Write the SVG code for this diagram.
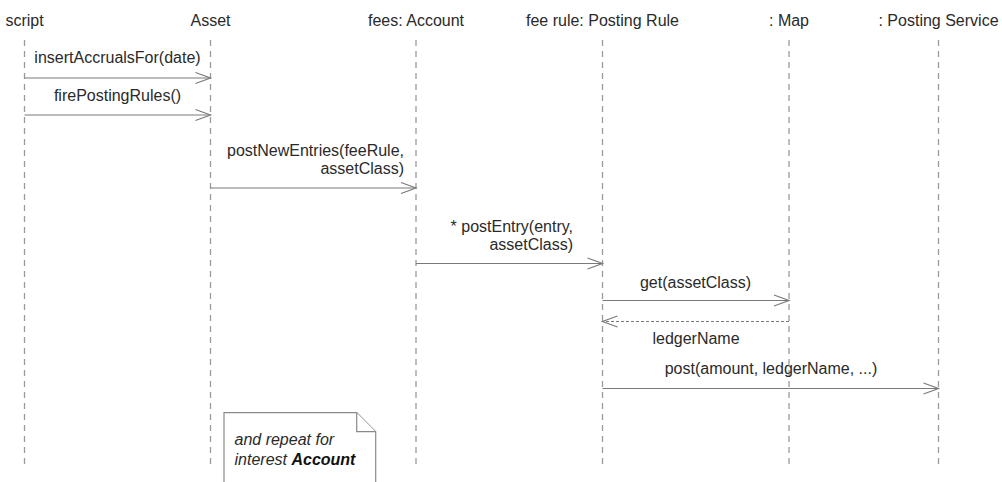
<svg xmlns="http://www.w3.org/2000/svg" width="1002" height="482" viewBox="0 0 1002 482">
<style>
text{font-family:"Liberation Sans",Arial,sans-serif;font-size:16px;fill:#2a2a2a}
.c{text-anchor:middle}
.r{text-anchor:end}
.life{stroke:#9a9a9a;stroke-width:1.3;stroke-dasharray:6 5;fill:none}
.msg{stroke:#7a7a7a;stroke-width:1.2;fill:none;marker-end:url(#open)}
.ret{stroke:#7a7a7a;stroke-width:1.2;fill:none;stroke-dasharray:3 2;marker-end:url(#open)}
.note{stroke:#8a8a8a;stroke-width:1.2;fill:#fff}
.it{font-style:italic}
</style>
<defs>
<marker id="open" viewBox="-17 -7 20 14" refX="0" refY="0" markerWidth="20" markerHeight="14" markerUnits="userSpaceOnUse" orient="auto" overflow="visible">
<path d="M-15,-5.5 L0,0 L-15,5.5" fill="none" stroke="#7a7a7a" stroke-width="1.2"/>
</marker>
</defs>
<g id="script"><text class="c" x="24.5" y="26">script</text><line class="life" x1="24.5" y1="40" x2="24.5" y2="465"/></g>
<g id="asset"><text class="c" x="210.5" y="26">Asset</text><line class="life" x1="210.5" y1="40" x2="210.5" y2="465"/></g>
<g id="fees"><text class="c" x="416" y="26">fees: Account</text><line class="life" x1="416" y1="40" x2="416" y2="465"/></g>
<g id="feerule"><text class="c" x="602.5" y="26">fee rule: Posting Rule</text><line class="life" x1="602.5" y1="40" x2="602.5" y2="465"/></g>
<g id="map"><text class="c" x="789" y="26">: Map</text><line class="life" x1="789" y1="40" x2="789" y2="465"/></g>
<g id="postingservice"><text class="c" x="938.5" y="26">: Posting Service</text><line class="life" x1="938.5" y1="40" x2="938.5" y2="465"/></g>
<g id="connectors">
<text class="c" x="117.5" y="63">insertAccrualsFor(date)</text>
<line class="msg" x1="24.5" y1="78" x2="210.5" y2="78"/>
<text class="c" x="117.5" y="101">firePostingRules()</text>
<line class="msg" x1="24.5" y1="115" x2="210.5" y2="115"/>
<text class="r" x="404" y="156">postNewEntries(feeRule,</text>
<text class="r" x="404" y="174">assetClass)</text>
<line class="msg" x1="210.5" y1="188" x2="416" y2="188"/>
<text class="r" x="573" y="232">* postEntry(entry,</text>
<text class="r" x="573" y="250">assetClass)</text>
<line class="msg" x1="416" y1="263.5" x2="602.5" y2="263.5"/>
<text class="c" x="695.5" y="288">get(assetClass)</text>
<line class="msg" x1="602.5" y1="300.5" x2="789" y2="300.5"/>
<line class="ret" x1="789" y1="321.5" x2="602.5" y2="321.5"/>
<text class="c" x="696" y="344">ledgerName</text>
<text class="c" x="771" y="374">post(amount, ledgerName, ...)</text>
<line class="msg" x1="602.5" y1="388.5" x2="938.5" y2="388.5"/>
</g>
<g id="note">
<path class="note" d="M224,490 L224,412.7 L356.7,412.7 L375.7,431.7 L375.7,490"/>
<path class="note" d="M356.7,412.7 L356.7,431.7 L375.7,431.7" fill="none"/>
<text class="it" x="234.5" y="445">and repeat for</text>
<text class="it" x="234.5" y="465">interest <tspan font-weight="bold" fill="#111">Account</tspan></text>
</g>
</svg>
